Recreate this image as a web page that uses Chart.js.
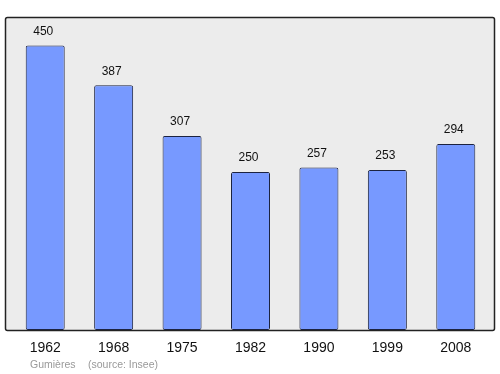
<!DOCTYPE html>
<html><head><meta charset="utf-8">
<script src="https://cdn.jsdelivr.net/npm/chart.js@4"></script>
<style>html,body{margin:0;padding:0;background:#fff}#w{width:500px;height:374px}</style>
</head><body><div id="w"><canvas id="c"></canvas></div>
<script>
const years = ["1962","1968","1975","1982","1990","1999","2008"];
const population = [450,387,307,250,257,253,294];
const placeName = "Gumières";
const sourceText = "(source: Insee)";

const framePlugin = {
  id:'frame',
  beforeDraw(chart){
    const ctx=chart.ctx;
    ctx.save();
    ctx.fillStyle='#ececec';
    ctx.strokeStyle='#222';
    ctx.lineWidth=1.5;
    ctx.beginPath();
    ctx.roundRect(5.5,17.5,489,313,2);
    ctx.fill();ctx.stroke();
    ctx.restore();
  },
  afterDatasetsDraw(chart){
    const ctx=chart.ctx;
    const meta=chart.getDatasetMeta(0);
    ctx.save();
    ctx.font='12px "Liberation Sans", Arial, sans-serif';
    ctx.fillStyle='#111';
    ctx.textAlign='center';
    ctx.textBaseline='middle';
    meta.data.forEach((el,i)=>{
      ctx.fillText(String(population[i]), el.x-2, el.y-14);
    });
    ctx.fillStyle='#999';
    ctx.font='10.5px "Liberation Sans", Arial, sans-serif';
    ctx.textAlign='left';
    ctx.fillText(placeName, 30, 365);
    ctx.fillText(sourceText, 88, 365);
    ctx.restore();
  }
};

new Chart(document.getElementById('c'),{
  type:'bar',
  data:{labels:years,datasets:[{data:population,backgroundColor:'#7799ff',borderColor:'#1c2340',borderWidth:1,borderRadius:2,borderSkipped:false,barPercentage:0.57,categoryPercentage:1}]},
  options:{
    responsive:true,maintainAspectRatio:false,animation:false,
    layout:{padding:{left:11,right:10,top:17,bottom:0}},
    plugins:{legend:{display:false},tooltip:{enabled:false}},
    scales:{
      y:{display:false,min:0,max:495},
      x:{grid:{display:false,drawTicks:false},border:{display:false},
         ticks:{color:'#111',font:{size:14,family:'"Liberation Sans", Arial, sans-serif'},padding:10},
         afterFit(s){s.height=44;}}
    }
  },
  plugins:[framePlugin]
});
</script></body></html>
